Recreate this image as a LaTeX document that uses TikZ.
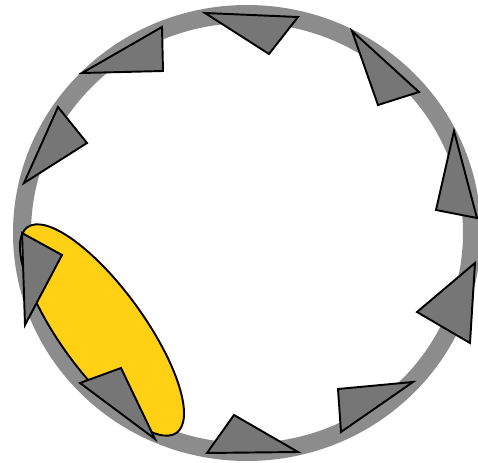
\documentclass[tikz,border=0pt]{standalone}
\definecolor{ringgray}{RGB}{140,140,140}
\definecolor{toothgray}{RGB}{118,118,118}
\definecolor{blobyellow}{RGB}{255,208,20}
\begin{document}
\begin{tikzpicture}[x=0.02cm, y=-0.02cm,
    ring/.style={draw=ringgray, line width=0.36cm},
    tooth/.style={draw=black, fill=toothgray, line width=1.1pt, line join=miter},
    blob/.style={draw=black, fill=blobyellow, line width=1.1pt}]
  \useasboundingbox (0,0) rectangle (478,463);
  % outer ring
  \draw[ring] (247,233) ellipse [x radius=225, y radius=219];
  % yellow patch
  \begin{scope}[shift={(102,330)}, rotate=-54]
    \draw[blob] (0,0) ellipse [x radius=127, y radius=42];
  \end{scope}
  % teeth
  \draw[tooth] (205,13) -- (298,17) -- (269,54) -- cycle;
  \draw[tooth] (162,27) -- (163,71) -- (82,73) -- cycle;
  \draw[tooth] (58,107) -- (87,143) -- (24,183) -- cycle;
  \draw[tooth] (22,233) -- (62,255) -- (25,325) -- cycle;
  \draw[tooth] (121,368) -- (155,439) -- (80,383) -- cycle;
  \draw[tooth] (234,415) -- (298,452) -- (207,453) -- cycle;
  \draw[tooth] (338,389) -- (413,382) -- (341,432) -- cycle;
  \draw[tooth] (475,263) -- (470,343) -- (417,312) -- cycle;
  \draw[tooth] (454,131) -- (477,218) -- (436,210) -- cycle;
  \draw[tooth] (352,31) -- (419,92) -- (378,105) -- cycle;
\end{tikzpicture}
\end{document}
